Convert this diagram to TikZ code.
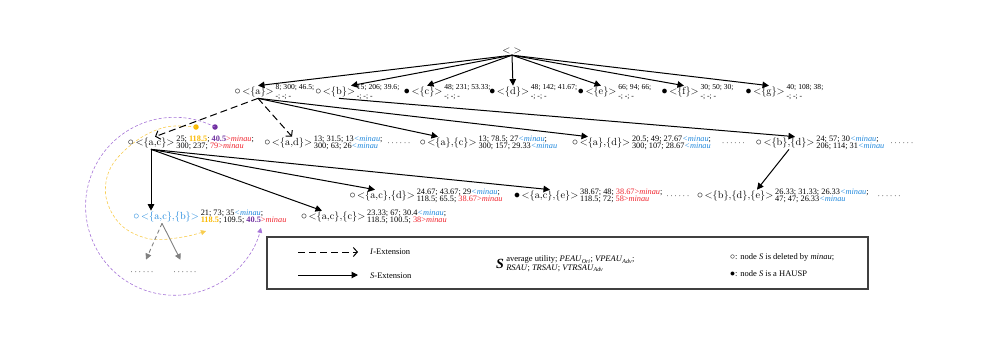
\documentclass[tikz,border=0pt]{standalone}
\usepackage{fontspec}
\usepackage{tikz}
\usetikzlibrary{arrows.meta,positioning}
\newfontfamily\numfont{Liberation Serif}
\definecolor{mred}{RGB}{240,35,45}
\definecolor{mblue}{RGB}{30,135,220}
\definecolor{morange}{RGB}{250,185,0}
\definecolor{mpurple}{RGB}{112,48,160}
\definecolor{arcorange}{RGB}{248,205,80}
\definecolor{arcpurple}{RGB}{165,115,215}
\newcommand{\ltm}{{\color{mblue}\textit{<minau}}}
\newcommand{\gtm}[1]{{\color{mred}#1>\textit{minau}}}
\newcommand{\hiO}{{\color{morange}\textbf{118.5}}}
\newcommand{\hiP}{{\color{mpurple}\textbf{40.5}}{\color{mred}>\textit{minau}}}

\begin{document}
\begin{tikzpicture}[x=1pt,y=-1pt,
lab/.style={font=\fontsize{10.3}{12}\selectfont,inner sep=1pt},
mk/.style={inner sep=0.2pt,font=\fontsize{12}{12}\selectfont},
num/.style={font=\numfont\fontsize{8.3}{7.6}\selectfont,align=left,inner sep=0.5pt,anchor=west},
topnum/.style={num,font=\numfont\fontsize{7.6}{8.2}\selectfont},
more/.style={font=\fontsize{9}{9}\selectfont,inner sep=1pt},
ltxt/.style={font=\numfont\fontsize{8.5}{8.5}\selectfont,inner sep=0pt,anchor=west},
sx/.style={line width=1pt,-{Triangle[length=6.5pt,width=6.5pt]}},
ix/.style={line width=1pt,dash pattern=on 7pt off 4pt,-{Straight Barb[length=4pt,width=9pt]}},
gx/.style={line width=0.9pt,gray,-{Triangle[length=6pt,width=6pt]}},
hop/.style={line width=0.6pt,dash pattern=on 3pt off 2pt,-{Triangle[length=5pt,width=5pt]}}]
\useasboundingbox (0,0) rectangle (997,341);
\node[circle,fill=morange,inner sep=0pt,minimum size=5.5pt] (od) at (196,127) {};
\node[circle,fill=mpurple,inner sep=0pt,minimum size=5.5pt] (pd) at (215,127) {};
\coordinate (oe) at (206,231);
\draw[hop,arcorange] plot[smooth,tension=0.6] coordinates {(od) (166,127) (136,141) (111,167) (106,197) (121,225) (150,239) (183,237) (oe)};
\draw[hop,arcpurple] (pd) arc[start angle=-63,end angle=-346,radius=89];

\node[lab] (r) at (512,51) {<\ >};
\node[lab,label={[mk]left:$\circ$}] (a) at (258,92) {<\{a\}>};
\node[topnum] (aN) at (a.east) {8; 300; 46.5;\\-; -; -};
\node[lab,label={[mk]left:$\circ$}] (b) at (339,92) {<\{b\}>};
\node[topnum] (bN) at (b.east) {15; 206; 39.6;\\-; -; -};
\node[lab,label={[mk]left:$\bullet$}] (c) at (427,92) {<\{c\}>};
\node[topnum] (cN) at (c.east) {48; 231; 53.33;\\-; -; -};
\node[lab,label={[mk]left:$\bullet$}] (d) at (513,92) {<\{d\}>};
\node[topnum] (dN) at (d.east) {48; 142; 41.67;\\-; -; -};
\node[lab,label={[mk]left:$\bullet$}] (e) at (601,92) {<\{e\}>};
\node[topnum] (eN) at (e.east) {66; 94; 66;\\-; -; -};
\node[lab,label={[mk]left:$\bullet$}] (f) at (684,92) {<\{f\}>};
\node[topnum] (fN) at (f.east) {30; 50; 30;\\-; -; -};
\node[lab,label={[mk]left:$\bullet$}] (g) at (769,92) {<\{g\}>};
\node[topnum] (gN) at (g.east) {40; 108; 38;\\-; -; -};
\draw[sx] (r.south) -- (a.north);
\draw[sx] (r.south) -- ([xshift=12pt]b.north);
\draw[sx] (r.south) -- (c.north);
\draw[sx] (r.south) -- (d.north);
\draw[sx] (r.south) -- (e.north);
\draw[sx] (r.south) -- (f.north);
\draw[sx] (r.south) -- (g.north);

\node[lab,label={[mk]left:$\circ$}] (ac) at (155,143) {<\{a,c\}>};
\node[num] (acN) at (ac.east) {25; \hiO; \hiP;\\300; 237; \gtm{79}};
\node[lab,label={[mk]left:$\circ$}] (ad) at (292,143) {<\{a,d\}>};
\node[num] (adN) at (ad.east) {13; 31.5; 13\ltm;\\300; 63; 26\ltm};
\node[more,right=3pt of adN] (m1) {$\cdots\cdots$};
\node[lab,label={[mk]left:$\circ$}] (aC) at (452,143) {<\{a\},\{c\}>};
\node[num] (aCN) at (aC.east) {13; 78.5; 27\ltm;\\300; 157; 29.33\ltm};
\node[lab,label={[mk]left:$\circ$}] (aD) at (605,143) {<\{a\},\{d\}>};
\node[num] (aDN) at (aD.east) {20.5; 49; 27.67\ltm;\\300; 107; 28.67\ltm};
\node[more,right=9pt of aDN] (m2) {$\cdots\cdots$};
\node[lab,label={[mk]left:$\circ$}] (bD) at (789,143) {<\{b\},\{d\}>};
\node[num] (bDN) at (bD.east) {24; 57; 30\ltm;\\206; 114; 31\ltm};
\node[more,right=4pt of bDN] (m3) {$\cdots\cdots$};
\draw[ix] (a.south) -- (ac.north);
\draw[ix] (a.south) -- (ad.north);
\draw[sx] (a.south) -- ([xshift=-14pt]aC.north);
\draw[sx] (a.south) -- ([xshift=-17pt]aD.north);
\draw[sx] (b.south) -- ([xshift=6pt]bD.north);

\node[lab,label={[mk]left:$\circ$}] (acD) at (386,196) {<\{a,c\},\{d\}>};
\node[num] (acDN) at (acD.east) {24.67; 43.67; 29\ltm;\\118.5; 65.5; \gtm{38.67}};
\node[lab,label={[mk]left:$\bullet$}] (acE) at (550,196) {<\{a,c\},\{e\}>};
\node[num] (acEN) at (acE.east) {38.67; 48; \gtm{38.67};\\118.5; 72; \gtm{58}};
\node[more,right=2pt of acEN] (m4) {$\cdots\cdots$};
\node[lab,label={[mk]left:$\circ$}] (bDE) at (739,196) {<\{b\},\{d\},\{e\}>};
\node[num] (bDEN) at (bDE.east) {26.33; 31.33; 26.33\ltm;\\47; 47; 26.33\ltm};
\node[more,right=7pt of bDEN] (m5) {$\cdots\cdots$};
\node[lab,text=mblue,label={[mk,mblue]left:$\circ$}] (acB) at (170,217) {<\{a,c\},\{b\}>};
\node[num] (acBN) at (acB.east) {21; 73; 35\ltm;\\\hiO; 109.5; \hiP};
\node[lab,label={[mk]left:$\circ$}] (acC) at (337,217) {<\{a,c\},\{c\}>};
\node[num] (acCN) at (acC.east) {23.33; 67; 30.4\ltm;\\118.5; 100.5; \gtm{38}};
\draw[sx] ([xshift=-4pt]ac.south) -- ([xshift=-4pt]ac.south |- acB.north);
\draw[sx] ([xshift=-4pt]ac.south) -- ([xshift=-15pt]acC.north);
\draw[sx] ([xshift=-4pt]ac.south) -- ([xshift=-11pt]acD.north);
\draw[sx] ([xshift=-4pt]ac.south) -- (acE.north);
\draw[sx] (bD.south) -- ([xshift=18pt]bDE.north);

\node[more] (gl) at (142,272) {$\cdots\cdots$};
\node[more] (gr) at (185,272) {$\cdots\cdots$};
\draw[gx,dash pattern=on 4pt off 3pt,shorten >=10pt] ([xshift=-8pt]acB.south) -- (gl.north);
\draw[gx,shorten >=10pt] ([xshift=-8pt]acB.south) -- (gr.north);

\draw[line width=1.2pt,black!75] (267,237) rectangle (868,289);
\coordinate (l1a) at (298,252);\coordinate (l1b) at (358,252);
\coordinate (l2a) at (298,275);\coordinate (l2b) at (358,275);
\draw[ix] (l1a) -- (l1b);
\draw[sx] (l2a) -- (l2b);
\node[ltxt] (l1t) at (370,252) {\textit{I}-Extension};
\node[ltxt] (l2t) at (370,276) {\textit{S}-Extension};
\node[font=\numfont\fontsize{14}{14}\selectfont\bfseries\itshape,inner sep=0pt] (sym) at (500,264) {S};
\node[ltxt,align=left,right=2pt of sym] (symt) {average utility; \textit{PEAU}\textsubscript{\textit{Ori}}; \textit{VPEAU}\textsubscript{\textit{Adv}};\\\textit{RSAU}; \textit{TRSAU}; \textit{VTRSAU}\textsubscript{\textit{Adv}}};
\node[ltxt] (k1) at (730,257) {{\fontsize{10}{10}\selectfont$\circ$}: node \textit{S} is deleted by \textit{minau};};
\node[ltxt] (k2) at (730,274) {{\fontsize{10}{10}\selectfont$\bullet$}: node \textit{S} is a HAUSP};
\end{tikzpicture}
\end{document}
